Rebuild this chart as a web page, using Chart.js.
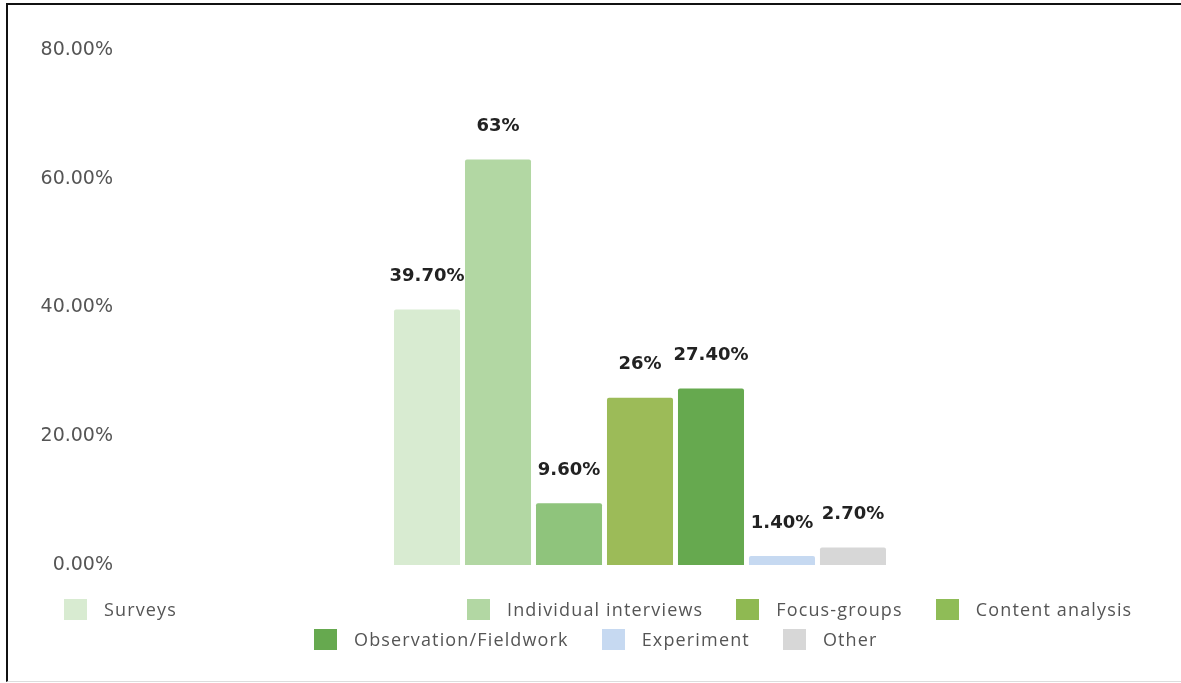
<!DOCTYPE html>
<html>
<head>
<meta charset="utf-8">
<script src="https://cdn.jsdelivr.net/npm/chart.js@4.4.0/dist/chart.umd.min.js"></script>
<style>
  html, body { margin: 0; padding: 0; background: #fff; }
  #wrap { position: relative; width: 1181px; height: 683px; overflow: hidden; }
  #frame { position: absolute; left: 6px; top: 3px; right: -10px; bottom: 1px;
           border-top: 2px solid #111; border-left: 2px solid #111; border-bottom: 1px solid #ddd; }
  canvas { position: absolute; left: 0; top: 0; }
  .lrow { position: absolute; display: flex; align-items: center; height: 24px;
          font-family: "Open Sans", sans-serif; font-size: 18px; letter-spacing: 1.15px; color: #555; white-space: nowrap; }
  .litem { display: flex; align-items: center; margin-right: 33px; }
  .lbox { width: 23px; height: 21px; margin-right: 17px; }
</style>
</head>
<body>
<div id="wrap">
  <div id="frame"></div>
  <canvas id="c" width="1181" height="683"></canvas>
  <div class="lrow" id="row1a" style="left:64px; top:597px;"></div>
  <div class="lrow" id="row1b" style="left:467px; top:597px;"></div>
  <div class="lrow" id="row2" style="left:314px; top:627px;"></div>
</div>
<script>
const seriesNames = ["Surveys", "Individual interviews", "Focus-groups", "Content analysis", "Observation/Fieldwork", "Experiment", "Other"];
const seriesValues = [39.7, 63, 9.6, 26, 27.4, 1.4, 2.7];
const valueLabels = ["39.70%", "63%", "9.60%", "26%", "27.40%", "1.40%", "2.70%"];
const seriesColors = ["#d8ebd1", "#b2d7a3", "#8fc47c", "#9cbb58", "#66a94f", "#c6d9f1", "#d7d7d7"];
const legendColors = ["#d8ebd1", "#b2d7a3", "#8fb952", "#8fbc57", "#66a94f", "#c6d9f1", "#d7d7d7"];
const yTicks = [0, 20, 40, 60, 80];

const datasets = seriesNames.map((name, i) => ({
  label: name,
  data: [seriesValues[i]],
  backgroundColor: seriesColors[i],
  borderWidth: 0,
  borderRadius: 2,
  barPercentage: 0.93,
  categoryPercentage: 0.4825
}));

const labelPlugin = {
  id: 'valueLabels',
  afterDatasetsDraw(chart) {
    const ctx = chart.ctx;
    ctx.save();
    ctx.font = 'bold 18px "DejaVu Sans", sans-serif';
    ctx.fillStyle = '#222';
    ctx.textAlign = 'center';
    ctx.textBaseline = 'middle';
    chart.data.datasets.forEach((ds, i) => {
      const el = chart.getDatasetMeta(i).data[0];
      ctx.fillText(valueLabels[i], el.x, el.y - 33);
    });
    ctx.restore();
  }
};

const chart = new Chart(document.getElementById('c'), {
  type: 'bar',
  data: { labels: [""], datasets },
  options: {
    responsive: false,
    animation: false,
    layout: { padding: { top: 50, bottom: 118, left: 0, right: 26 } },
    plugins: { legend: { display: false }, tooltip: { enabled: false } },
    scales: {
      x: { display: false },
      y: {
        min: 0, max: 80,
        afterFit(scale) { scale.width = 125; },
        afterBuildTicks(scale) { scale.ticks = yTicks.map(v => ({ value: v })); },
        grid: { display: false, drawTicks: false },
        border: { display: false },
        ticks: {
          padding: 12,
          color: '#555',
          font: { family: '"DejaVu Sans", sans-serif', size: 19 },
          callback: v => v.toFixed(2) + '%'
        }
      }
    }
  },
  plugins: [labelPlugin]
});

function addItem(rowId, i) {
  const row = document.getElementById(rowId);
  const item = document.createElement('div');
  item.className = 'litem';
  const box = document.createElement('span');
  box.className = 'lbox';
  box.style.background = legendColors[i];
  const txt = document.createElement('span');
  txt.textContent = chart.data.datasets[i].label;
  item.appendChild(box); item.appendChild(txt);
  row.appendChild(item);
}
addItem('row1a', 0);
[1, 2, 3].forEach(i => addItem('row1b', i));
[4, 5, 6].forEach(i => addItem('row2', i));
</script>
</body>
</html>
